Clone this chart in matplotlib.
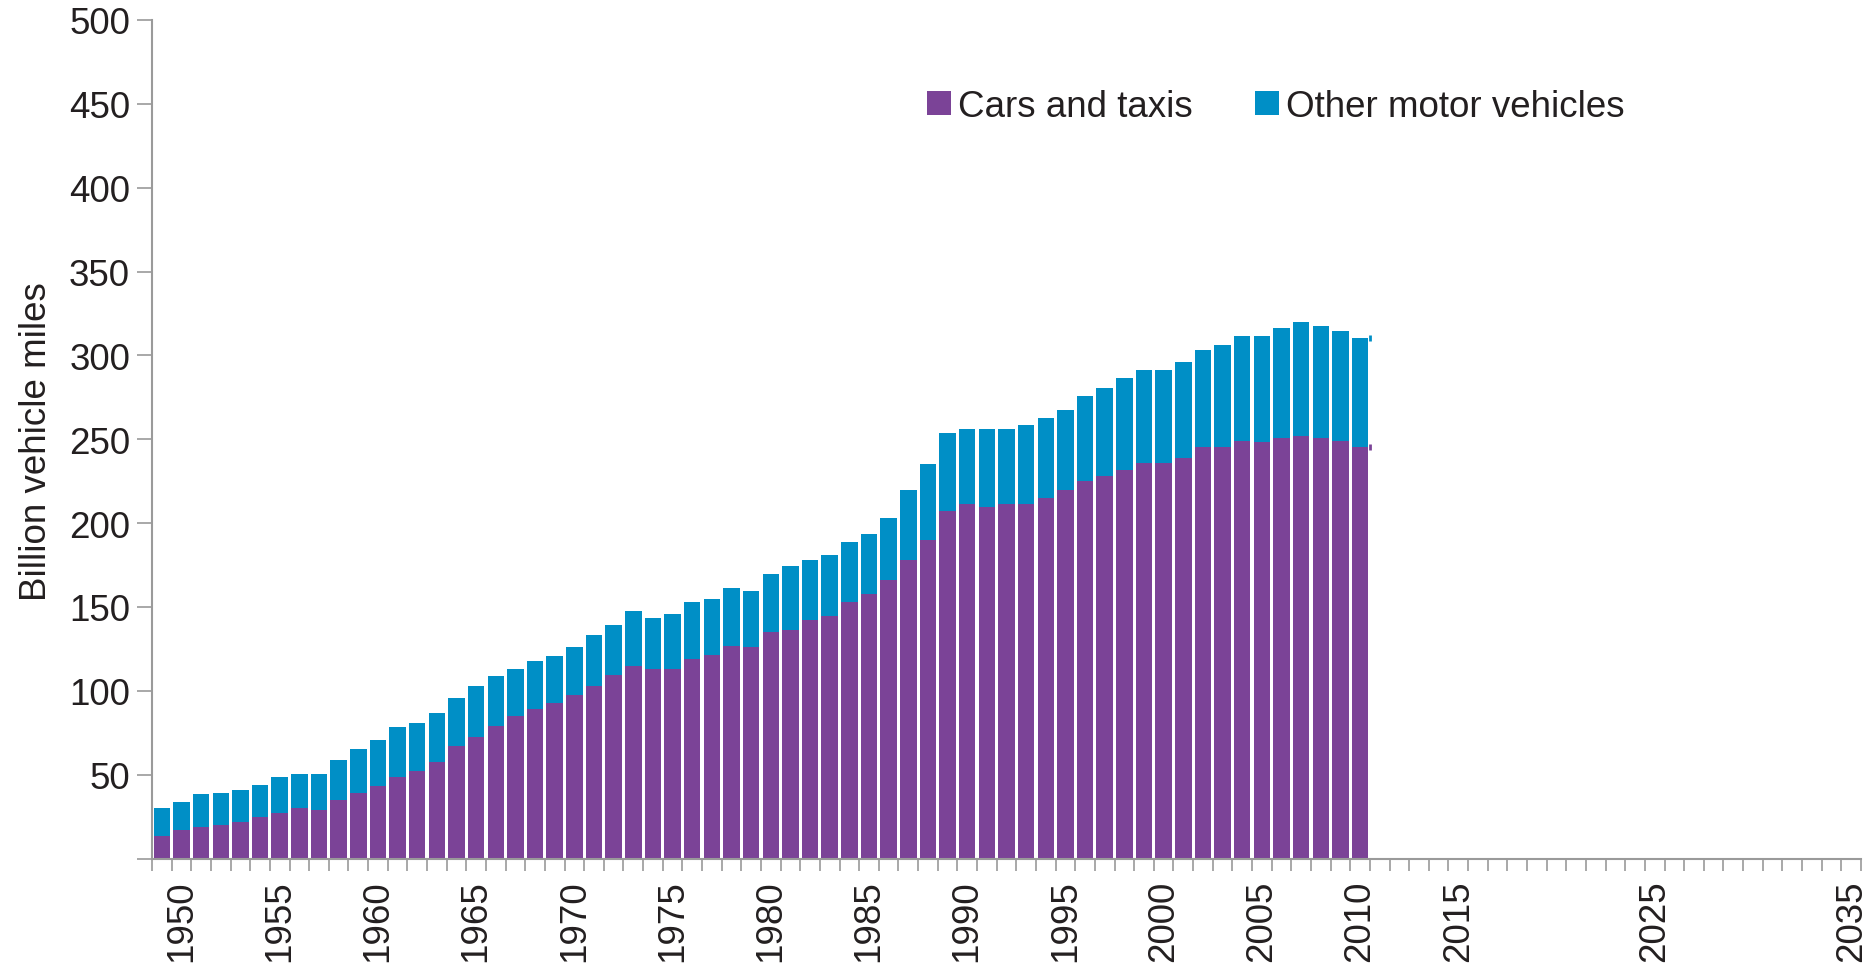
import numpy as np
import matplotlib
matplotlib.use("Agg")
import matplotlib.pyplot as plt

# Road traffic by vehicle type, billion vehicle miles
years = list(range(1949, 2011))
cars_taxis = [
    13.4, 17.0, 19.0, 20.0, 21.6, 24.6, 27.4, 30.0, 29.2, 34.8,
    39.3, 43.1, 48.5, 52.3, 57.8, 67.0, 72.6, 79.0, 84.7, 89.3,
    92.9, 97.7, 103.0, 109.6, 115.0, 113.2, 113.2, 118.8, 121.6, 126.9,
    126.2, 135.3, 136.4, 142.1, 144.7, 153.0, 157.6, 166.0, 177.9, 190.1,
    207.4, 211.2, 209.4, 211.2, 211.2, 214.9, 219.5, 225.0, 227.8, 231.5,
    236.1, 236.1, 238.8, 245.2, 245.2, 249.0, 248.2, 250.8, 251.8, 250.8,
    249.0, 245.2,
]
all_vehicles = [
    30.0, 33.9, 38.3, 39.3, 41.1, 43.9, 48.5, 50.3, 50.3, 58.7,
    65.2, 70.6, 78.2, 80.9, 86.5, 95.5, 103.0, 108.6, 113.2, 117.8,
    120.6, 126.2, 133.5, 139.1, 147.5, 143.7, 145.7, 153.0, 154.8, 161.2,
    159.4, 169.5, 174.2, 177.9, 180.7, 188.9, 193.7, 203.0, 219.5, 235.3,
    253.8, 256.4, 256.4, 256.4, 258.2, 262.7, 267.5, 275.9, 280.5, 286.8,
    291.4, 291.4, 296.2, 303.4, 306.3, 311.7, 311.7, 316.3, 320.1, 317.3,
    314.7, 310.1,
]
other_vehicles = [t - c for t, c in zip(all_vehicles, cars_taxis)]

year_labels = [1950, 1955, 1960, 1965, 1970, 1975, 1980, 1985, 1990,
               1995, 2000, 2005, 2010, 2015, 2025, 2035]
first_year, last_year = 1949, 2035

PURPLE = "#7B4397"
BLUE = "#008FC6"
GREY = "#9a9a9a"
TEXT = "#231f20"
FS = 26.5

plt.rcParams["font.family"] = ["Liberation Sans", "DejaVu Sans"]

fig = plt.figure(figsize=(18.71, 9.70), dpi=100)
ax = fig.add_axes([152 / 1871, 110.5 / 970, 1709 / 1871, 838.5 / 970])

ax.bar(years, cars_taxis, width=0.84, color=PURPLE, label="Cars and taxis")
ax.bar(years, other_vehicles, width=0.84, bottom=cars_taxis, color=BLUE,
       label="Other motor vehicles")

# small stubs of the projection lines just after the last bar
ax.plot([years[-1] + 0.48], [all_vehicles[-1]], marker="|", ms=5, mew=2, color=BLUE)
ax.plot([years[-1] + 0.48], [cars_taxis[-1]], marker="|", ms=5, mew=2, color=PURPLE)

ax.set_xlim(first_year - 0.5, last_year + 0.5)
ax.set_ylim(0, 500)

ax.set_yticks(np.arange(0, 501, 50))
ax.set_yticklabels([""] + [str(v) for v in range(50, 501, 50)])
ax.set_xticks(year_labels)
ax.set_xticklabels([str(y) for y in year_labels], rotation=90)
ax.set_xticks(np.arange(first_year - 0.5, last_year + 1.0, 1.0), minor=True)

ax.tick_params(axis="y", length=10.8, width=1.2, color=GREY, pad=5,
               labelsize=FS, labelcolor=TEXT)
ax.tick_params(axis="x", which="major", length=0, pad=15,
               labelsize=FS, labelcolor=TEXT)
ax.tick_params(axis="x", which="minor", length=8.6, width=1.2, color=GREY)

for side in ["top", "right"]:
    ax.spines[side].set_visible(False)
for side in ["left", "bottom"]:
    ax.spines[side].set_color(GREY)
    ax.spines[side].set_linewidth(1.5)

fig.text(37 / 1871, 1 - 442 / 970, "Billion vehicle miles", rotation=90,
         ha="center", va="center", fontsize=FS, color=TEXT)

ax.legend(loc="center left", bbox_to_anchor=(927 / 1871, 1 - 107.5 / 970),
          bbox_transform=fig.transFigure, ncol=2, frameon=False,
          fontsize=FS, handlelength=0.65, handleheight=0.65,
          handletextpad=0.19, columnspacing=1.7, borderpad=0,
          borderaxespad=0, labelcolor=TEXT)

fig.savefig("out.png", dpi=100)
